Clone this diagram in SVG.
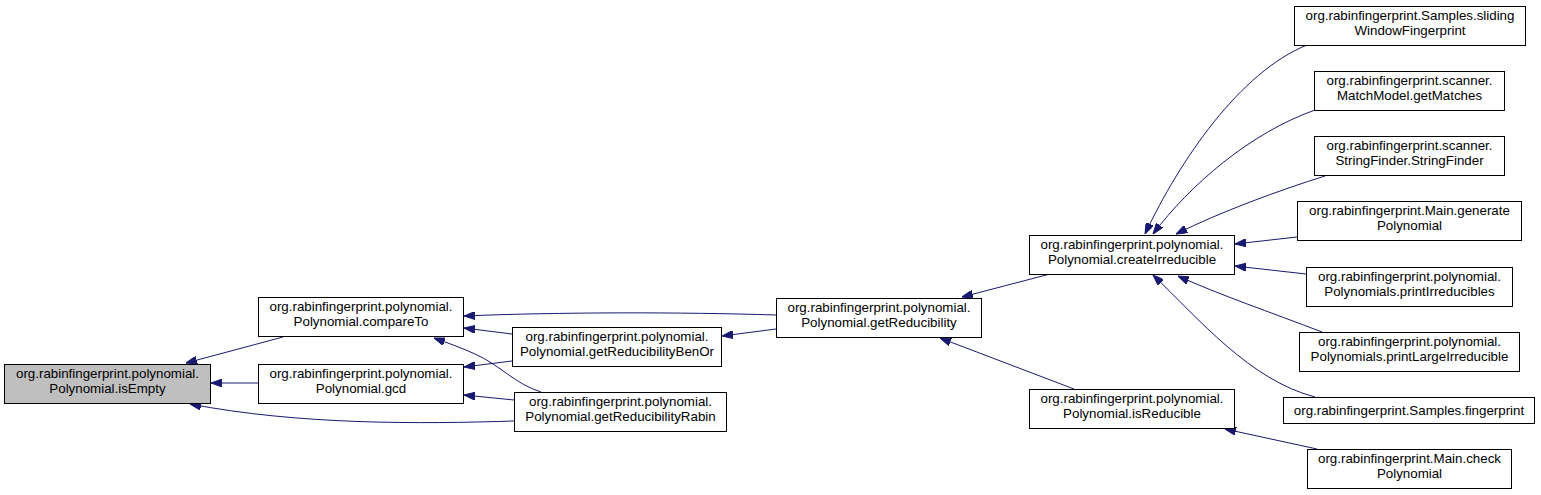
<svg xmlns="http://www.w3.org/2000/svg" width="1541" height="495" viewBox="0 0 1541 495">
<style>
.n rect{fill:#ffffff;stroke:#000000;stroke-width:1}
.n.hl rect{fill:#bfbfbf}
.n text{font-family:"Liberation Sans",Arial,sans-serif;font-size:13.33px;fill:#000000;text-anchor:middle}
.e path{fill:none;stroke:#191970;stroke-width:1;marker-end:url(#ah)}
</style>
<defs>
<marker id="ah" viewBox="0 0 11 8" refX="11" refY="4" markerWidth="11" markerHeight="8" markerUnits="userSpaceOnUse" orient="auto">
<polygon points="0,0 11,4 0,8" fill="#191970" stroke="#191970" stroke-width="1"/>
</marker>
</defs>
<rect width="1541" height="495" fill="#ffffff"/>
<g id="edges" class="e">
<path d="M 283,337 L 186,363"/>
<path d="M 258,383 L 211,383"/>
<path d="M 514,421 C 420,424 300,425 190,404"/>
<path d="M 776,315 C 680,312 560,312 464,316"/>
<path d="M 512,334 L 464,328"/>
<path d="M 541,392 C 515,384 500,365 475,354 C 462,348 448,343 434,338"/>
<path d="M 512,361 L 464,367"/>
<path d="M 514,400 L 464,395"/>
<path d="M 776,329 L 722,336"/>
<path d="M 1050,274 L 962,297"/>
<path d="M 1074,389 L 940,338"/>
<path d="M 1307,45 C 1240,72 1180,160 1145,234"/>
<path d="M 1315,110 C 1250,133 1190,185 1153,234"/>
<path d="M 1325,176 C 1280,190 1220,212 1176,234"/>
<path d="M 1297,237 L 1235,244"/>
<path d="M 1306,274 L 1235,266"/>
<path d="M 1322,332 C 1270,312 1220,295 1178,276"/>
<path d="M 1315,397 C 1250,380 1200,320 1153,275"/>
<path d="M 1317,449 L 1225,429"/>
</g>
<g id="isEmpty" class="n hl"><rect x="4.5" y="364.5" width="206" height="39"/><text x="107.5" y="378">org.rabinfingerprint.polynomial.</text><text x="107.5" y="393">Polynomial.isEmpty</text></g>
<g id="compareTo" class="n"><rect x="258.5" y="297.5" width="205" height="39"/><text x="361" y="311">org.rabinfingerprint.polynomial.</text><text x="361" y="326">Polynomial.compareTo</text></g>
<g id="gcd" class="n"><rect x="258.5" y="364.5" width="205" height="39"/><text x="361" y="378">org.rabinfingerprint.polynomial.</text><text x="361" y="393">Polynomial.gcd</text></g>
<g id="getReducibilityBenOr" class="n"><rect x="512.5" y="327.5" width="209" height="39"/><text x="617" y="341">org.rabinfingerprint.polynomial.</text><text x="617" y="356">Polynomial.getReducibilityBenOr</text></g>
<g id="getReducibilityRabin" class="n"><rect x="514.5" y="392.5" width="212" height="39"/><text x="620.5" y="406">org.rabinfingerprint.polynomial.</text><text x="620.5" y="421">Polynomial.getReducibilityRabin</text></g>
<g id="getReducibility" class="n"><rect x="776.5" y="298.5" width="205" height="39"/><text x="879" y="312">org.rabinfingerprint.polynomial.</text><text x="879" y="327">Polynomial.getReducibility</text></g>
<g id="createIrreducible" class="n"><rect x="1029.5" y="235.5" width="205" height="39"/><text x="1132" y="249">org.rabinfingerprint.polynomial.</text><text x="1132" y="264">Polynomial.createIrreducible</text></g>
<g id="isReducible" class="n"><rect x="1029.5" y="389.5" width="205" height="39"/><text x="1132" y="403">org.rabinfingerprint.polynomial.</text><text x="1132" y="418">Polynomial.isReducible</text></g>
<g id="slidingWindowFingerprint" class="n"><rect x="1294.5" y="6.5" width="231" height="39"/><text x="1410" y="20">org.rabinfingerprint.Samples.sliding</text><text x="1410" y="35">WindowFingerprint</text></g>
<g id="getMatches" class="n"><rect x="1314.5" y="71.5" width="190" height="39"/><text x="1409.5" y="85">org.rabinfingerprint.scanner.</text><text x="1409.5" y="100">MatchModel.getMatches</text></g>
<g id="StringFinder" class="n"><rect x="1314.5" y="136.5" width="190" height="39"/><text x="1409.5" y="150">org.rabinfingerprint.scanner.</text><text x="1409.5" y="165">StringFinder.StringFinder</text></g>
<g id="generatePolynomial" class="n"><rect x="1297.5" y="201.5" width="224" height="39"/><text x="1409.5" y="215">org.rabinfingerprint.Main.generate</text><text x="1409.5" y="230">Polynomial</text></g>
<g id="printIrreducibles" class="n"><rect x="1306.5" y="267.5" width="206" height="39"/><text x="1409.5" y="281">org.rabinfingerprint.polynomial.</text><text x="1409.5" y="296">Polynomials.printIrreducibles</text></g>
<g id="printLargeIrreducible" class="n"><rect x="1299.5" y="332.5" width="220" height="39"/><text x="1409.5" y="346">org.rabinfingerprint.polynomial.</text><text x="1409.5" y="361">Polynomials.printLargeIrreducible</text></g>
<g id="fingerprint" class="n"><rect x="1283.5" y="397.5" width="251" height="26"/><text x="1409" y="415">org.rabinfingerprint.Samples.fingerprint</text></g>
<g id="checkPolynomial" class="n"><rect x="1307.5" y="449.5" width="204" height="39"/><text x="1409.5" y="463">org.rabinfingerprint.Main.check</text><text x="1409.5" y="478">Polynomial</text></g>
</svg>
